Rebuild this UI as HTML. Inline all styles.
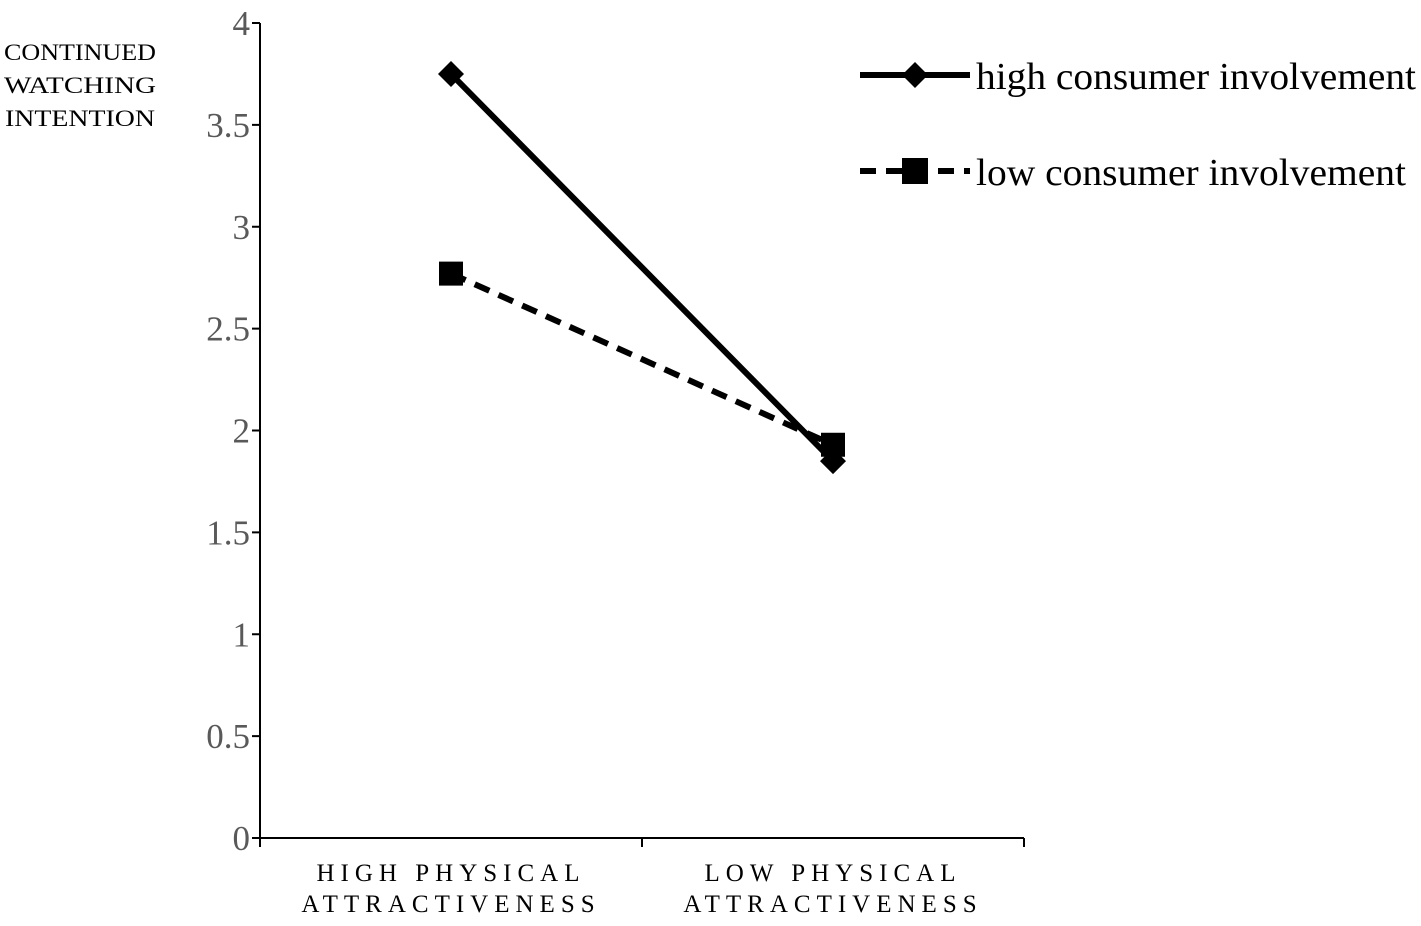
<!DOCTYPE html>
<html><head><meta charset="utf-8"><style>
body{margin:0;background:#fff;}
svg text{font-family:"Liberation Serif",serif;}
</style></head><body>
<svg width="1421" height="921" viewBox="0 0 1421 921" id="chart">
<g id="axes"></g><g id="series"></g>
<text x="80" y="60" text-anchor="middle" font-size="23" textLength="152" lengthAdjust="spacingAndGlyphs">CONTINUED</text>
<text x="80" y="93" text-anchor="middle" font-size="23" textLength="152" lengthAdjust="spacingAndGlyphs">WATCHING</text>
<text x="80" y="126" text-anchor="middle" font-size="23" textLength="150" lengthAdjust="spacingAndGlyphs">INTENTION</text>
<g>
<line x1="860" y1="75" x2="970" y2="75" stroke="#000" stroke-width="6"/>
<polygon points="915,62 928,75 915,88 902,75" fill="#000"/>
<text x="976" y="89" font-size="38" textLength="440" lengthAdjust="spacingAndGlyphs">high consumer involvement</text>
<line x1="860" y1="171" x2="970" y2="171" stroke="#000" stroke-width="6" stroke-dasharray="16,10"/>
<rect x="902" y="158" width="26" height="26" fill="#000"/>
<text x="976" y="185" font-size="38" textLength="430" lengthAdjust="spacingAndGlyphs">low consumer involvement</text>
</g>
</svg>
<script>
const categories=[["HIGH PHYSICAL","ATTRACTIVENESS"],["LOW PHYSICAL","ATTRACTIVENESS"]];
const highInvolvement=[3.75,1.85];
const lowInvolvement=[2.77,1.93];
const yTicks=[0,0.5,1,1.5,2,2.5,3,3.5,4];
const yTickLabels=["0","0.5","1","1.5","2","2.5","3","3.5","4"];
const NS="http://www.w3.org/2000/svg";
const X0=260,X1=1024,Y0=838,Y1=23,YMAX=4;
const y=v=>Y0-(v/YMAX)*(Y0-Y1);
const band=(X1-X0)/categories.length;
const x=i=>X0+band*(i+0.5);
function mk(tag,attrs,parent){const e=document.createElementNS(NS,tag);for(const k in attrs)e.setAttribute(k,attrs[k]);parent.appendChild(e);return e;}
const axes=document.getElementById('axes'),ser=document.getElementById('series');
let a=mk('line',{x1:X0,y1:Y1,x2:X0,y2:Y0,stroke:'#000','stroke-width':2},axes);


a=mk('line',{x1:X0,y1:Y0,x2:X1,y2:Y0,stroke:'#000','stroke-width':2},axes);


yTicks.forEach((v,i)=>{
 const t=mk('line',{x1:X0-8,y1:y(v),x2:X0,y2:y(v),stroke:'#000','stroke-width':2},axes);
 
 
 const l=mk('text',{x:X0-10,y:y(v)+12,'text-anchor':'end','font-size':35,fill:'#595959'},axes);
 l.textContent=yTickLabels[i];
 
 
});
for(let i=0;i<=categories.length;i++){
 const t=mk('line',{x1:X0+band*i,y1:Y0,x2:X0+band*i,y2:Y0+9,stroke:'#000','stroke-width':2},axes);
 
 
}
categories.forEach((c,i)=>{
 c.forEach((line,j)=>{
  const l=mk('text',{x:x(i),y:881+j*31,'text-anchor':'middle','font-size':25,'letter-spacing':6},axes);
  l.textContent=line;
  
  
 });
});
function pts(arr){return arr.map((v,i)=>x(i)+','+y(v)).join(' ');}
let p=mk('polyline',{points:pts(lowInvolvement),fill:'none',stroke:'#000','stroke-width':6,'stroke-dasharray':'16,10'},ser);


lowInvolvement.forEach((v,i)=>{
 const r=mk('rect',{x:x(i)-12,y:y(v)-12,width:24,height:24,fill:'#000'},ser);
 
 
});
p=mk('polyline',{points:pts(highInvolvement),fill:'none',stroke:'#000','stroke-width':6},ser);


highInvolvement.forEach((v,i)=>{
 const cx=x(i),cy=y(v);
 const d=mk('polygon',{points:`${cx},${cy-13} ${cx+13},${cy} ${cx},${cy+13} ${cx-13},${cy}`,fill:'#000'},ser);
 
 
});
</script>
</body></html>
